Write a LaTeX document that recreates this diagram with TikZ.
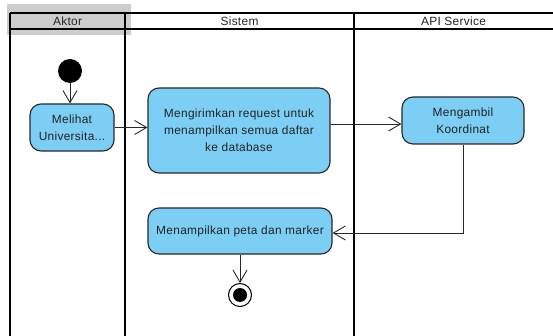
\documentclass[tikz,border=0pt]{standalone}
\usepackage{fontspec}
\setmainfont{Liberation Sans}[LetterSpace=2.5]
\usetikzlibrary{arrows.meta}
\definecolor{boxfill}{RGB}{124,206,244}
\definecolor{edge}{RGB}{40,40,40}
\definecolor{hdrgrey}{RGB}{205,205,205}
\definecolor{txt}{RGB}{35,35,35}
\begin{document}
\begin{tikzpicture}[x=1pt,y=-1pt,
  act/.style={draw=edge, line width=1.1pt, fill=boxfill, rounded corners=11pt,
    align=center, inner sep=0pt, font=\fontsize{11.9}{16.8}\selectfont, text=txt},
  flow/.style={draw=edge, line width=0.9pt, -{Straight Barb[length=12pt,width=14pt,line width=0.9pt]}},
  lane/.style={draw=black, line width=2pt},
  hdr/.style={font=\fontsize{11.9}{14}\selectfont, text=txt}]
\useasboundingbox (0,0) rectangle (553,336);
% grey header highlight
\fill[hdrgrey] (7,4) rectangle (131,35);
% header lines
\draw[lane] (10,13) -- (553,13);
\draw[lane] (10,29.5) -- (553,29.5);
% lane borders
\draw[lane] (10,13) -- (10,336);
\draw[lane, line width=2.8pt] (125,13) -- (125,336);
\draw[lane, line width=2.4pt] (354,13) -- (354,336);
% header labels
\node[hdr] (hA) at (67.5,21.5) {Aktor};
\node[hdr] (hS) at (239.5,21.5) {Sistem};
\node[hdr] (hP) at (453.5,21.5) {API Service};
% nodes
\node[circle, fill=black, minimum size=24pt, inner sep=0pt] (start) at (70,71) {};
\node[act, minimum width=84pt, minimum height=47pt] (melihat) at (72,127.5) {Melihat\\Universita...};
\node[act, minimum width=182pt, minimum height=85pt] (kirim) at (239,130.5) {Mengirimkan request untuk\\menampilkan semua daftar\\ke database};
\node[act, minimum width=122pt, minimum height=47pt] (ambil) at (463,120.5) {Mengambil\\Koordinat};
\node[act, minimum width=184pt, minimum height=46pt] (tampil) at (240,231) {Menampilkan peta dan marker};
\node[circle, draw=black, line width=1pt, fill=white, minimum size=23pt, inner sep=0pt] (end) at (240,295) {};
\node[circle, fill=black, minimum size=14pt, inner sep=0pt] (endin) at (end) {};
% connectors
\draw[flow] (start) -- (start |- melihat.north);
\draw[flow] (melihat.east) -- (melihat.east -| kirim.west);
\draw[flow] ([yshift=6.5pt]kirim.east) -- ([yshift=6.5pt]kirim.east -| ambil.west);
\draw[flow] (ambil.south) |- ([yshift=-2pt]tampil.east);
\draw[flow] (tampil.south) -- (end.north);
\end{tikzpicture}
\end{document}
